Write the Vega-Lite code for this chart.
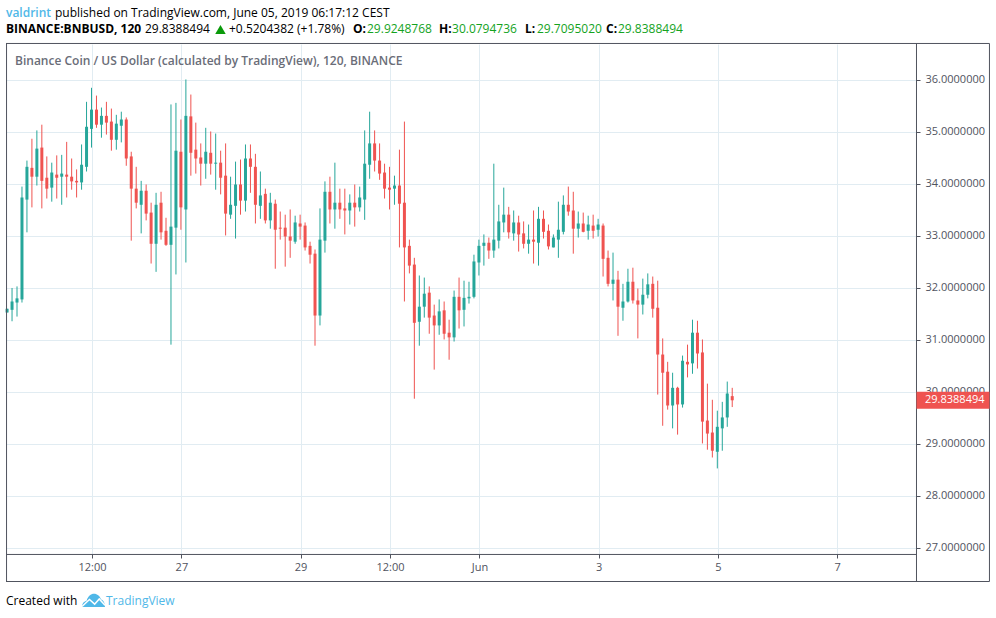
{
"$schema":"https://vega.github.io/schema/vega-lite/v6.json",
"width":910,"height":510,
"autosize":"none",
"padding":{"left":6,"top":44,"right":80,"bottom":64},
"background":"#ffffff",
"view":{"stroke":null},
"config":{"text":{"font":"Open Sans","fontSize":12,"align":"left","baseline":"middle"},"rule":{"color":"#50535e","strokeWidth":1}},
"layer":[
{"data":{"values":[
{"t":"2019-05-24T02:00Z","o":31.53,"h":31.60,"l":31.53,"c":31.60},
{"t":"2019-05-24T04:00Z","o":31.58,"h":32.00,"l":31.36,"c":31.74},
{"t":"2019-05-24T06:00Z","o":31.72,"h":32.03,"l":31.45,"c":31.80},
{"t":"2019-05-24T08:00Z","o":31.78,"h":33.95,"l":31.72,"c":33.74},
{"t":"2019-05-24T10:00Z","o":33.70,"h":34.45,"l":33.07,"c":34.33},
{"t":"2019-05-24T12:00Z","o":34.31,"h":34.87,"l":33.55,"c":34.14},
{"t":"2019-05-24T14:00Z","o":34.14,"h":35.03,"l":33.97,"c":34.68},
{"t":"2019-05-24T16:00Z","o":34.70,"h":35.14,"l":33.53,"c":34.06},
{"t":"2019-05-24T18:00Z","o":34.12,"h":34.53,"l":33.72,"c":33.91},
{"t":"2019-05-24T20:00Z","o":33.93,"h":34.41,"l":33.66,"c":34.22},
{"t":"2019-05-24T22:00Z","o":34.18,"h":34.55,"l":33.72,"c":34.12},
{"t":"2019-05-25T00:00Z","o":34.14,"h":34.56,"l":33.60,"c":34.20},
{"t":"2019-05-25T02:00Z","o":34.18,"h":34.81,"l":33.74,"c":34.14},
{"t":"2019-05-25T04:00Z","o":34.14,"h":34.49,"l":33.89,"c":34.05},
{"t":"2019-05-25T06:00Z","o":34.06,"h":34.28,"l":33.74,"c":34.03},
{"t":"2019-05-25T08:00Z","o":34.03,"h":34.76,"l":33.89,"c":34.37},
{"t":"2019-05-25T10:00Z","o":34.33,"h":35.58,"l":34.24,"c":35.10},
{"t":"2019-05-25T12:00Z","o":35.06,"h":35.85,"l":34.70,"c":35.43},
{"t":"2019-05-25T14:00Z","o":35.43,"h":35.70,"l":35.08,"c":35.14},
{"t":"2019-05-25T16:00Z","o":35.14,"h":35.47,"l":34.89,"c":35.31},
{"t":"2019-05-25T18:00Z","o":35.31,"h":35.58,"l":34.95,"c":35.18},
{"t":"2019-05-25T20:00Z","o":35.20,"h":35.45,"l":34.64,"c":34.85},
{"t":"2019-05-25T22:00Z","o":34.85,"h":35.33,"l":34.66,"c":35.16},
{"t":"2019-05-26T00:00Z","o":35.12,"h":35.39,"l":34.80,"c":35.24},
{"t":"2019-05-26T02:00Z","o":35.24,"h":35.28,"l":34.35,"c":34.49},
{"t":"2019-05-26T04:00Z","o":34.53,"h":34.62,"l":32.91,"c":33.91},
{"t":"2019-05-26T06:00Z","o":33.91,"h":34.33,"l":33.53,"c":33.64},
{"t":"2019-05-26T08:00Z","o":33.60,"h":34.06,"l":33.05,"c":33.87},
{"t":"2019-05-26T10:00Z","o":33.87,"h":33.99,"l":33.30,"c":33.43},
{"t":"2019-05-26T12:00Z","o":33.45,"h":33.64,"l":32.47,"c":32.85},
{"t":"2019-05-26T14:00Z","o":32.85,"h":33.83,"l":32.31,"c":33.60},
{"t":"2019-05-26T16:00Z","o":33.64,"h":33.85,"l":32.93,"c":33.07},
{"t":"2019-05-26T18:00Z","o":33.10,"h":33.35,"l":32.81,"c":32.83},
{"t":"2019-05-26T20:00Z","o":32.83,"h":35.53,"l":30.91,"c":33.18},
{"t":"2019-05-26T22:00Z","o":33.16,"h":35.56,"l":32.26,"c":34.64},
{"t":"2019-05-27T00:00Z","o":34.62,"h":35.24,"l":33.12,"c":33.55},
{"t":"2019-05-27T02:00Z","o":33.51,"h":36.01,"l":32.49,"c":35.31},
{"t":"2019-05-27T04:00Z","o":35.30,"h":35.72,"l":34.16,"c":34.60},
{"t":"2019-05-27T06:00Z","o":34.66,"h":35.18,"l":34.20,"c":34.49},
{"t":"2019-05-27T08:00Z","o":34.51,"h":34.78,"l":33.97,"c":34.39},
{"t":"2019-05-27T10:00Z","o":34.39,"h":35.08,"l":34.10,"c":34.62},
{"t":"2019-05-27T12:00Z","o":34.60,"h":35.01,"l":34.18,"c":34.39},
{"t":"2019-05-27T14:00Z","o":34.39,"h":34.97,"l":33.89,"c":34.41},
{"t":"2019-05-27T16:00Z","o":34.41,"h":34.64,"l":33.80,"c":34.12},
{"t":"2019-05-27T18:00Z","o":34.16,"h":34.78,"l":33.01,"c":33.43},
{"t":"2019-05-27T20:00Z","o":33.41,"h":34.14,"l":33.33,"c":33.60},
{"t":"2019-05-27T22:00Z","o":33.58,"h":34.43,"l":32.95,"c":33.99},
{"t":"2019-05-28T00:00Z","o":33.99,"h":34.47,"l":33.41,"c":33.68},
{"t":"2019-05-28T02:00Z","o":33.68,"h":34.76,"l":33.47,"c":34.49},
{"t":"2019-05-28T04:00Z","o":34.49,"h":34.76,"l":33.83,"c":34.33},
{"t":"2019-05-28T06:00Z","o":34.33,"h":34.58,"l":33.24,"c":33.60},
{"t":"2019-05-28T08:00Z","o":33.58,"h":34.24,"l":33.33,"c":33.78},
{"t":"2019-05-28T10:00Z","o":33.81,"h":33.91,"l":33.24,"c":33.30},
{"t":"2019-05-28T12:00Z","o":33.30,"h":33.83,"l":33.14,"c":33.64},
{"t":"2019-05-28T14:00Z","o":33.62,"h":33.70,"l":32.37,"c":33.12},
{"t":"2019-05-28T16:00Z","o":33.16,"h":33.47,"l":32.93,"c":33.14},
{"t":"2019-05-28T18:00Z","o":33.16,"h":33.41,"l":32.41,"c":32.99},
{"t":"2019-05-28T20:00Z","o":32.99,"h":33.51,"l":32.58,"c":32.91},
{"t":"2019-05-28T22:00Z","o":32.89,"h":33.39,"l":32.85,"c":33.26},
{"t":"2019-05-29T00:00Z","o":33.24,"h":33.41,"l":32.93,"c":33.18},
{"t":"2019-05-29T02:00Z","o":33.20,"h":33.26,"l":32.72,"c":32.78},
{"t":"2019-05-29T04:00Z","o":32.81,"h":32.89,"l":32.47,"c":32.64},
{"t":"2019-05-29T06:00Z","o":32.66,"h":32.74,"l":30.89,"c":31.47},
{"t":"2019-05-29T08:00Z","o":31.47,"h":33.53,"l":31.28,"c":32.93},
{"t":"2019-05-29T10:00Z","o":32.91,"h":34.05,"l":32.68,"c":33.85},
{"t":"2019-05-29T12:00Z","o":33.85,"h":34.14,"l":33.24,"c":33.51},
{"t":"2019-05-29T14:00Z","o":33.51,"h":34.41,"l":33.14,"c":33.64},
{"t":"2019-05-29T16:00Z","o":33.64,"h":33.91,"l":33.33,"c":33.51},
{"t":"2019-05-29T18:00Z","o":33.53,"h":33.91,"l":33.03,"c":33.49},
{"t":"2019-05-29T20:00Z","o":33.49,"h":33.80,"l":33.22,"c":33.64},
{"t":"2019-05-29T22:00Z","o":33.64,"h":33.99,"l":33.18,"c":33.55},
{"t":"2019-05-30T00:00Z","o":33.55,"h":33.95,"l":33.47,"c":33.74},
{"t":"2019-05-30T02:00Z","o":33.70,"h":35.03,"l":33.31,"c":34.39},
{"t":"2019-05-30T04:00Z","o":34.37,"h":35.39,"l":34.10,"c":34.78},
{"t":"2019-05-30T06:00Z","o":34.78,"h":35.03,"l":34.24,"c":34.45},
{"t":"2019-05-30T08:00Z","o":34.45,"h":34.78,"l":34.08,"c":34.20},
{"t":"2019-05-30T10:00Z","o":34.22,"h":34.39,"l":33.72,"c":33.91},
{"t":"2019-05-30T12:00Z","o":33.93,"h":34.33,"l":33.51,"c":33.89},
{"t":"2019-05-30T14:00Z","o":33.91,"h":34.16,"l":33.60,"c":33.97},
{"t":"2019-05-30T16:00Z","o":33.97,"h":34.66,"l":32.78,"c":33.62},
{"t":"2019-05-30T18:00Z","o":33.64,"h":35.20,"l":31.74,"c":32.78},
{"t":"2019-05-30T20:00Z","o":32.81,"h":32.93,"l":32.28,"c":32.43},
{"t":"2019-05-30T22:00Z","o":32.45,"h":32.58,"l":29.87,"c":31.33},
{"t":"2019-05-31T00:00Z","o":31.35,"h":32.24,"l":30.89,"c":31.64},
{"t":"2019-05-31T02:00Z","o":31.64,"h":32.20,"l":31.43,"c":31.89},
{"t":"2019-05-31T04:00Z","o":31.91,"h":32.03,"l":31.12,"c":31.43},
{"t":"2019-05-31T06:00Z","o":31.47,"h":31.68,"l":30.43,"c":31.28},
{"t":"2019-05-31T08:00Z","o":31.28,"h":31.78,"l":31.10,"c":31.55},
{"t":"2019-05-31T10:00Z","o":31.57,"h":31.74,"l":31.01,"c":31.12},
{"t":"2019-05-31T12:00Z","o":31.14,"h":31.39,"l":30.62,"c":31.05},
{"t":"2019-05-31T14:00Z","o":31.05,"h":31.95,"l":30.97,"c":31.83},
{"t":"2019-05-31T16:00Z","o":31.83,"h":32.20,"l":31.22,"c":31.57},
{"t":"2019-05-31T18:00Z","o":31.58,"h":32.14,"l":31.26,"c":31.81},
{"t":"2019-05-31T20:00Z","o":31.80,"h":32.12,"l":31.70,"c":31.83},
{"t":"2019-05-31T22:00Z","o":31.83,"h":32.64,"l":31.80,"c":32.51},
{"t":"2019-06-01T00:00Z","o":32.49,"h":32.93,"l":32.24,"c":32.81},
{"t":"2019-06-01T02:00Z","o":32.81,"h":33.03,"l":32.43,"c":32.87},
{"t":"2019-06-01T04:00Z","o":32.87,"h":32.97,"l":32.56,"c":32.72},
{"t":"2019-06-01T06:00Z","o":32.72,"h":34.39,"l":32.58,"c":32.93},
{"t":"2019-06-01T08:00Z","o":32.91,"h":33.60,"l":32.76,"c":33.28},
{"t":"2019-06-01T10:00Z","o":33.26,"h":33.93,"l":33.07,"c":33.41},
{"t":"2019-06-01T12:00Z","o":33.41,"h":33.56,"l":32.95,"c":33.07},
{"t":"2019-06-01T14:00Z","o":33.05,"h":33.49,"l":32.91,"c":33.26},
{"t":"2019-06-01T16:00Z","o":33.26,"h":33.39,"l":32.70,"c":33.03},
{"t":"2019-06-01T18:00Z","o":33.05,"h":33.28,"l":32.76,"c":32.85},
{"t":"2019-06-01T20:00Z","o":32.85,"h":33.22,"l":32.66,"c":32.93},
{"t":"2019-06-01T22:00Z","o":32.93,"h":33.49,"l":32.47,"c":32.89},
{"t":"2019-06-02T00:00Z","o":32.87,"h":33.56,"l":32.43,"c":33.33},
{"t":"2019-06-02T02:00Z","o":33.33,"h":33.49,"l":32.95,"c":33.08},
{"t":"2019-06-02T04:00Z","o":33.10,"h":33.22,"l":32.74,"c":32.80},
{"t":"2019-06-02T06:00Z","o":32.78,"h":33.03,"l":32.78,"c":32.97},
{"t":"2019-06-02T08:00Z","o":32.93,"h":33.66,"l":32.58,"c":33.12},
{"t":"2019-06-02T10:00Z","o":33.08,"h":33.78,"l":33.03,"c":33.60},
{"t":"2019-06-02T12:00Z","o":33.60,"h":33.95,"l":33.39,"c":33.47},
{"t":"2019-06-02T14:00Z","o":33.49,"h":33.85,"l":32.66,"c":33.14},
{"t":"2019-06-02T16:00Z","o":33.14,"h":33.47,"l":32.97,"c":33.24},
{"t":"2019-06-02T18:00Z","o":33.24,"h":33.45,"l":33.07,"c":33.08},
{"t":"2019-06-02T20:00Z","o":33.10,"h":33.39,"l":32.93,"c":33.22},
{"t":"2019-06-02T22:00Z","o":33.20,"h":33.41,"l":32.95,"c":33.10},
{"t":"2019-06-03T00:00Z","o":33.12,"h":33.33,"l":32.99,"c":33.22},
{"t":"2019-06-03T02:00Z","o":33.20,"h":33.24,"l":32.22,"c":32.56},
{"t":"2019-06-03T04:00Z","o":32.58,"h":32.72,"l":32.03,"c":32.08},
{"t":"2019-06-03T06:00Z","o":32.08,"h":32.68,"l":31.76,"c":32.16},
{"t":"2019-06-03T08:00Z","o":32.16,"h":32.33,"l":31.08,"c":31.64},
{"t":"2019-06-03T10:00Z","o":31.62,"h":32.08,"l":31.37,"c":31.74},
{"t":"2019-06-03T12:00Z","o":31.74,"h":32.37,"l":31.72,"c":32.12},
{"t":"2019-06-03T14:00Z","o":32.12,"h":32.39,"l":31.70,"c":31.76},
{"t":"2019-06-03T16:00Z","o":31.76,"h":31.99,"l":31.03,"c":31.68},
{"t":"2019-06-03T18:00Z","o":31.68,"h":32.18,"l":31.49,"c":31.87},
{"t":"2019-06-03T20:00Z","o":31.87,"h":32.28,"l":31.80,"c":32.07},
{"t":"2019-06-03T22:00Z","o":32.08,"h":32.22,"l":31.43,"c":31.60},
{"t":"2019-06-04T00:00Z","o":31.62,"h":32.14,"l":29.95,"c":30.72},
{"t":"2019-06-04T02:00Z","o":30.72,"h":31.03,"l":29.35,"c":30.37},
{"t":"2019-06-04T04:00Z","o":30.39,"h":30.58,"l":29.66,"c":29.74},
{"t":"2019-06-04T06:00Z","o":29.74,"h":30.37,"l":29.30,"c":30.08},
{"t":"2019-06-04T08:00Z","o":30.08,"h":30.10,"l":29.18,"c":29.76},
{"t":"2019-06-04T10:00Z","o":29.76,"h":30.70,"l":29.70,"c":30.60},
{"t":"2019-06-04T12:00Z","o":30.58,"h":30.91,"l":30.28,"c":30.53},
{"t":"2019-06-04T14:00Z","o":30.55,"h":31.39,"l":30.35,"c":31.14},
{"t":"2019-06-04T16:00Z","o":31.14,"h":31.37,"l":30.45,"c":30.74},
{"t":"2019-06-04T18:00Z","o":30.76,"h":31.01,"l":29.01,"c":29.43},
{"t":"2019-06-04T20:00Z","o":29.45,"h":30.16,"l":28.89,"c":29.20},
{"t":"2019-06-04T22:00Z","o":29.22,"h":29.85,"l":28.74,"c":28.87},
{"t":"2019-06-05T00:00Z","o":28.85,"h":29.64,"l":28.53,"c":29.33},
{"t":"2019-06-05T02:00Z","o":29.30,"h":29.81,"l":28.87,"c":29.51},
{"t":"2019-06-05T04:00Z","o":29.51,"h":30.20,"l":29.33,"c":29.97},
{"t":"2019-06-05T06:00Z","o":29.92,"h":30.08,"l":29.71,"c":29.84}
]},
"encoding":{
"x":{"field":"t","type":"temporal","title":null,
"scale":{"type":"utc","padding":0,"domain":[{"year":2019,"month":"may","date":24,"hours":1,"minutes":22,"utc":true},{"year":2019,"month":"jun","date":8,"hours":7,"minutes":48,"utc":true}]},
"axis":{"values":[{"year":2019,"month":"may","date":25,"hours":12,"utc":true},{"year":2019,"month":"may","date":27,"utc":true},{"year":2019,"month":"may","date":29,"utc":true},{"year":2019,"month":"may","date":30,"hours":12,"utc":true},{"year":2019,"month":"jun","date":1,"utc":true},{"year":2019,"month":"jun","date":3,"utc":true},{"year":2019,"month":"jun","date":5,"utc":true},{"year":2019,"month":"jun","date":7,"utc":true}],
"labelExpr":"utchours(datum.value)==12?'12:00':utcdate(datum.value)==1?'Jun':''+utcdate(datum.value)",
"grid":true,"gridColor":"#e1ecf2","domain":false,"tickColor":"#50535e","tickSize":4,"labelColor":"#50535e","labelFont":"Open Sans","labelFontSize":11,"labelPadding":3,"labelFlush":false,"labelOverlap":false}},
"y":{"type":"quantitative","title":null,
"scale":{"domain":[26.884,36.692],"nice":false,"zero":false},
"axis":{"orient":"right","values":[27,28,29,30,31,32,33,34,35,36],"format":".7f","grid":true,"gridColor":"#e1ecf2","domain":false,"tickColor":"#50535e","tickSize":4,"labelColor":"#50535e","labelFont":"Open Sans","labelFontSize":11,"labelPadding":5,"labelFlush":false,"labelOverlap":false}},
"color":{"condition":{"test":"datum.o<datum.c","value":"#26a69a"},"value":"#ef5350"}
},
"layer":[
{"mark":{"type":"rule","strokeWidth":1,"xOffset":-0.5},"encoding":{"y":{"field":"l","type":"quantitative"},"y2":{"field":"h"}}},
{"mark":{"type":"bar","size":3,"xOffset":-0.5},"encoding":{"y":{"field":"o","type":"quantitative"},"y2":{"field":"c"}}}
]},
{"data":{"values":[{"s":"Binance Coin / US Dollar (calculated by TradingView), 120, BINANCE"}]},"mark":{"type":"text","fontWeight":600,"fontSize":12,"color":"#6a6d78"},"encoding":{"text":{"field":"s"},"x":{"datum":{"year":2019,"month":"may","date":24,"hours":5,"utc":true},"type":"temporal"},"y":{"datum":36.371,"type":"quantitative"}}},
{"data":{"values":[{"s":"valdrint"}]},"mark":{"type":"text","fontWeight":600,"color":"#50b8e8"},"encoding":{"text":{"field":"s"},"x":{"datum":{"year":2019,"month":"may","date":24,"hours":1,"minutes":22,"utc":true},"type":"temporal"},"y":{"datum":37.294,"type":"quantitative"}}},
{"data":{"values":[{"s":"published on TradingView.com, June 05, 2019 06:17:12 CEST"}]},"mark":{"type":"text","color":"#000000"},"encoding":{"text":{"field":"s"},"x":{"datum":{"year":2019,"month":"may","date":24,"hours":21,"minutes":6,"utc":true},"type":"temporal"},"y":{"datum":37.294,"type":"quantitative"}}},
{"data":{"values":[{"s":"BINANCE:BNBUSD, 120"}]},"mark":{"type":"text","fontWeight":700,"color":"#000000"},"encoding":{"text":{"field":"s"},"x":{"datum":{"year":2019,"month":"may","date":24,"hours":1,"minutes":22,"utc":true},"type":"temporal"},"y":{"datum":36.971,"type":"quantitative"}}},
{"data":{"values":[{"s":"29.8388494"}]},"mark":{"type":"text","color":"#000000"},"encoding":{"text":{"field":"s"},"x":{"datum":{"year":2019,"month":"may","date":26,"hours":9,"minutes":20,"utc":true},"type":"temporal"},"y":{"datum":36.971,"type":"quantitative"}}},
{"data":{"values":[{"s":"up"}]},"mark":{"type":"point","shape":"triangle-up","filled":true,"size":110,"opacity":1,"color":"#0a9a0a"},"encoding":{"x":{"datum":{"year":2019,"month":"may","date":27,"hours":15,"minutes":44,"utc":true},"type":"temporal"},"y":{"datum":36.971,"type":"quantitative"}}},
{"data":{"values":[{"s":"+0.5204382 (+1.78%)"}]},"mark":{"type":"text","color":"#000000"},"encoding":{"text":{"field":"s"},"x":{"datum":{"year":2019,"month":"may","date":27,"hours":19,"minutes":10,"utc":true},"type":"temporal"},"y":{"datum":36.971,"type":"quantitative"}}},
{"data":{"values":[{"s":"O:"}]},"mark":{"type":"text","fontWeight":700,"color":"#000000"},"encoding":{"text":{"field":"s"},"x":{"datum":{"year":2019,"month":"may","date":29,"hours":21,"minutes":5,"utc":true},"type":"temporal"},"y":{"datum":36.971,"type":"quantitative"}}},
{"data":{"values":[{"s":"29.9248768"}]},"mark":{"type":"text","color":"#14a31e"},"encoding":{"text":{"field":"s"},"x":{"datum":{"year":2019,"month":"may","date":30,"hours":2,"minutes":44,"utc":true},"type":"temporal"},"y":{"datum":36.971,"type":"quantitative"}}},
{"data":{"values":[{"s":"H:"}]},"mark":{"type":"text","fontWeight":700,"color":"#000000"},"encoding":{"text":{"field":"s"},"x":{"datum":{"year":2019,"month":"may","date":31,"hours":7,"minutes":43,"utc":true},"type":"temporal"},"y":{"datum":36.971,"type":"quantitative"}}},
{"data":{"values":[{"s":"30.0794736"}]},"mark":{"type":"text","color":"#14a31e"},"encoding":{"text":{"field":"s"},"x":{"datum":{"year":2019,"month":"may","date":31,"hours":12,"minutes":58,"utc":true},"type":"temporal"},"y":{"datum":36.971,"type":"quantitative"}}},
{"data":{"values":[{"s":"L:"}]},"mark":{"type":"text","fontWeight":700,"color":"#000000"},"encoding":{"text":{"field":"s"},"x":{"datum":{"year":2019,"month":"jun","date":1,"hours":18,"minutes":21,"utc":true},"type":"temporal"},"y":{"datum":36.971,"type":"quantitative"}}},
{"data":{"values":[{"s":"29.7095020"}]},"mark":{"type":"text","color":"#14a31e"},"encoding":{"text":{"field":"s"},"x":{"datum":{"year":2019,"month":"jun","date":1,"hours":23,"minutes":11,"utc":true},"type":"temporal"},"y":{"datum":36.971,"type":"quantitative"}}},
{"data":{"values":[{"s":"C:"}]},"mark":{"type":"text","fontWeight":700,"color":"#000000"},"encoding":{"text":{"field":"s"},"x":{"datum":{"year":2019,"month":"jun","date":3,"hours":2,"minutes":58,"utc":true},"type":"temporal"},"y":{"datum":36.971,"type":"quantitative"}}},
{"data":{"values":[{"s":"29.8388494"}]},"mark":{"type":"text","color":"#14a31e"},"encoding":{"text":{"field":"s"},"x":{"datum":{"year":2019,"month":"jun","date":3,"hours":7,"minutes":48,"utc":true},"type":"temporal"},"y":{"datum":36.971,"type":"quantitative"}}},
{"data":{"values":[{"s":"Created with"}]},"mark":{"type":"text","color":"#000000"},"encoding":{"text":{"field":"s"},"x":{"datum":{"year":2019,"month":"may","date":24,"hours":1,"minutes":22,"utc":true},"type":"temporal"},"y":{"datum":25.986,"type":"quantitative"}}},
{"data":{"values":[{"s":"TradingView"}]},"mark":{"type":"text","color":"#50b8e8"},"encoding":{"text":{"field":"s"},"x":{"datum":{"year":2019,"month":"may","date":25,"hours":17,"minutes":38,"utc":true},"type":"temporal"},"y":{"datum":25.986,"type":"quantitative"}}},
{"data":{"values":[{"s":"logo"}]},"mark":{"type":"point","filled":true,"size":529,"opacity":1,"color":"#50b8e8","shape":"M-1 0.55 C-1 0.2 -0.8 0.05 -0.6 0 C-0.45 -0.45 -0.1 -0.7 0.25 -0.55 C0.5 -0.45 0.6 -0.25 0.65 -0.1 C0.9 -0.05 1 0.25 1 0.55 L-1 0.55 Z"},"encoding":{"x":{"datum":{"year":2019,"month":"may","date":25,"hours":12,"minutes":36,"utc":true},"type":"temporal"},"y":{"datum":25.986,"type":"quantitative"}}},
{"data":{"values":[{"s":"logo"}]},"mark":{"type":"point","filled":false,"size":529,"opacity":1,"strokeWidth":1.5,"color":"#ffffff","shape":"M-1 0.5 L-0.35 -0.1 L0.1 0.3 L0.5 -0.15 L1 0.4"},"encoding":{"x":{"datum":{"year":2019,"month":"may","date":25,"hours":12,"minutes":36,"utc":true},"type":"temporal"},"y":{"datum":25.986,"type":"quantitative"}}},
{"data":{"values":[{"s":"frame"}]},"mark":{"type":"rule"},"encoding":{"x":{"datum":{"year":2019,"month":"may","date":24,"hours":1,"minutes":22,"utc":true},"type":"temporal"},"x2":{"datum":{"year":2019,"month":"jun","date":9,"hours":13,"minutes":23,"utc":true}},"y":{"datum":36.702,"type":"quantitative"}}},
{"data":{"values":[{"s":"frame"}]},"mark":{"type":"rule"},"encoding":{"x":{"datum":{"year":2019,"month":"may","date":24,"hours":1,"minutes":22,"utc":true},"type":"temporal"},"x2":{"datum":{"year":2019,"month":"jun","date":9,"hours":13,"minutes":23,"utc":true}},"y":{"datum":26.355,"type":"quantitative"}}},
{"data":{"values":[{"s":"frame"}]},"mark":{"type":"rule"},"encoding":{"x":{"datum":{"year":2019,"month":"may","date":24,"hours":1,"minutes":22,"utc":true},"type":"temporal"},"x2":{"datum":{"year":2019,"month":"jun","date":8,"hours":7,"minutes":48,"utc":true}},"y":{"datum":26.875,"type":"quantitative"}}},
{"data":{"values":[{"s":"frame"}]},"mark":{"type":"rule"},"encoding":{"x":{"datum":{"year":2019,"month":"may","date":24,"hours":1,"minutes":35,"utc":true},"type":"temporal"},"y":{"datum":36.702,"type":"quantitative"},"y2":{"datum":26.355}}},
{"data":{"values":[{"s":"frame"}]},"mark":{"type":"rule"},"encoding":{"x":{"datum":{"year":2019,"month":"jun","date":8,"hours":8,"utc":true},"type":"temporal"},"y":{"datum":36.702,"type":"quantitative"},"y2":{"datum":26.355}}},
{"data":{"values":[{"s":"frame"}]},"mark":{"type":"rule"},"encoding":{"x":{"datum":{"year":2019,"month":"jun","date":9,"hours":13,"minutes":23,"utc":true},"type":"temporal"},"y":{"datum":36.702,"type":"quantitative"},"y2":{"datum":26.355}}},
{"data":{"values":[{"s":"last"}]},"mark":{"type":"rect","color":"#ef5350"},"encoding":{"x":{"datum":{"year":2019,"month":"jun","date":8,"hours":8,"utc":true},"type":"temporal"},"x2":{"datum":{"year":2019,"month":"jun","date":9,"hours":13,"minutes":23,"utc":true}},"y":{"datum":30.002,"type":"quantitative"},"y2":{"datum":29.675}}},
{"data":{"values":[{"s":"29.8388494"}]},"mark":{"type":"text","fontSize":11,"color":"#ffffff"},"encoding":{"text":{"field":"s"},"x":{"datum":{"year":2019,"month":"jun","date":8,"hours":11,"minutes":26,"utc":true},"type":"temporal"},"y":{"datum":29.8388,"type":"quantitative"}}}
]
}
